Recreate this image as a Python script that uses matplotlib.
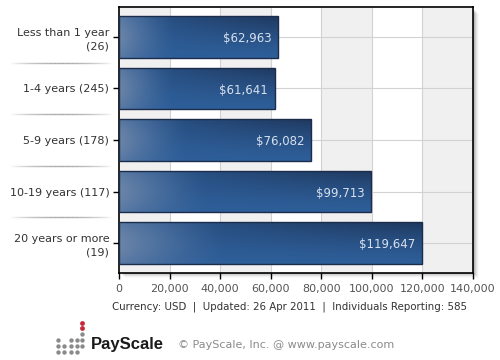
import numpy as np
import matplotlib
matplotlib.use("Agg")
import matplotlib.pyplot as plt
from matplotlib.patches import Rectangle
from matplotlib.collections import LineCollection
import matplotlib.transforms as mtransforms

categories = ["Less than 1 year\n(26)", "1-4 years (245)", "5-9 years (178)",
              "10-19 years (117)", "20 years or more\n(19)"]
values = [62963, 61641, 76082, 99713, 119647]
value_labels = ["$62,963", "$61,641", "$76,082", "$99,713", "$119,647"]
x_ticks = [0, 20000, 40000, 60000, 80000, 100000, 120000, 140000]
x_tick_labels = ["0", "20,000", "40,000", "60,000", "80,000", "100,000", "120,000", "140,000"]
footer = "Currency: USD  |  Updated: 26 Apr 2011  |  Individuals Reporting: 585"
copyright_text = "\u00a9 PayScale, Inc. @ www.payscale.com"

plt.rcParams['font.family'] = ['DejaVu Sans']
W, H = 500, 360
fig = plt.figure(figsize=(5, 3.6), dpi=100)
fig.patch.set_facecolor("white")

L, R, T, B = 119, 473, 7, 273
ax = fig.add_axes([L / W, 1 - B / H, (R - L) / W, (B - T) / H])

# shadow
for k, a in zip(range(1, 6), [0.10, 0.08, 0.06, 0.04, 0.02]):
    fig.patches.append(Rectangle(((L + k + 1) / W, 1 - (B + k) / H), (R - L) / W, (B - T - 2) / H,
                                 transform=fig.transFigure, facecolor="black", alpha=a,
                                 edgecolor="none", zorder=-1))

ax.set_facecolor("white")
ypos = np.arange(len(categories))

# alternating background bands
for i in range(len(x_ticks) - 1):
    if i % 2 == 0:
        ax.axvspan(x_ticks[i], x_ticks[i + 1], color="#f0f0f0", zorder=0, lw=0)
for xt in x_ticks[1:-1]:
    ax.axvline(xt, color="#d2d2d2", lw=0.8, zorder=0.5)
for yp in ypos:
    ax.axhline(yp, color="#d2d2d2", lw=0.8, zorder=0.5)

# gradient image for bars
nu, nv = 200, 40
u = np.linspace(0, 1, nu)[None, :]
v = np.linspace(0, 1, nv)[:, None]
base = np.array([0.18, 0.37, 0.60])
light = np.array([0.42, 0.52, 0.66])
dark = np.array([0.12, 0.22, 0.37])
wl = np.clip(1 - u / 0.35, 0, 1) ** 1.4 * (0.7 + 0.3 * np.sin(np.pi * v))
wd = np.clip((u - 0.15) / 0.85, 0, 1) ** 0.7 * (1 - v) ** 1.5 * 0.85 + 0.15 * (1 - v)
wd = np.clip(wd, 0, 1)
img = base[None, None, :] * np.ones((nv, nu, 1))
img = img * (1 - wd[..., None]) + dark * wd[..., None]
img = img * (1 - wl[..., None]) + light * wl[..., None]
img = np.clip(img, 0, 1)

bh = 0.815
bars = ax.barh(ypos, values, height=bh, facecolor="none", edgecolor="#1b2d4b",
               linewidth=1.0, zorder=3)
for bar, lab in zip(bars, value_labels):
    x0, y0, w, h = bar.get_x(), bar.get_y(), bar.get_width(), bar.get_height()
    im = ax.imshow(img, extent=[x0, x0 + w, y0 + h, y0], aspect="auto",
                   interpolation="bilinear", zorder=2)
    im.set_clip_path(bar)
    ax.text(x0 + w - 0.019 * x_ticks[-1], y0 + h / 2 + 0.03, lab, ha="right", va="center",
            color="#d6e0ee", fontsize=8.5, zorder=4)
ax.set_xlim(x_ticks[0], x_ticks[-1])
ax.set_ylim(len(categories) - 1 + 0.5825, -0.5825)
ax.set_aspect("auto")

ax.set_yticks(ypos)
ax.set_yticklabels(categories, fontsize=8, color="#333333", ha="right", linespacing=1.45)
ax.set_xticks(x_ticks)
ax.set_xticklabels(x_tick_labels, fontsize=8, color="#555555")
ax.tick_params(axis="y", length=4, width=1, color="black", pad=3)
ax.tick_params(axis="x", length=4, width=1, color="black", pad=4)
for s in ax.spines.values():
    s.set_color("black")
    s.set_linewidth(1.2)

# separator lines between labels
trans = mtransforms.blended_transform_factory(ax.transAxes, ax.transData)
xa0, xa1 = (10 - L) / (R - L), (112 - L) / (R - L)
nseg = 40
xs = np.linspace(xa0, xa1, nseg + 1)
for i in range(len(categories) - 1):
    yb = i + 0.5
    segs = [[(xs[j], yb), (xs[j + 1], yb)] for j in range(nseg)]
    t = (np.arange(nseg) + 0.5) / nseg
    alph = np.sin(np.pi * t) ** 0.8 * 0.75
    cols = [(0.55, 0.55, 0.55, a) for a in alph]
    lc = LineCollection(segs, colors=cols, linewidths=1.0, transform=trans, clip_on=False)
    ax.add_collection(lc)

fig.text(290 / W, 1 - 307 / H, footer, ha="center", va="center", fontsize=7.35, color="#333333")

# logo dots
dot_ax = fig.add_axes([0, 0, 1, 1], facecolor="none")
dot_ax.set_xlim(0, W)
dot_ax.set_ylim(H, 0)
dot_ax.axis("off")
red_pts = [(82, 323), (82, 328)]
gray_pts = [(82, 334), (58, 340), (71, 340), (77, 340), (82, 340),
            (58, 346), (64, 346), (71, 346), (77, 346), (82, 346),
            (58, 352), (64, 352), (71, 352), (77, 352)]
dot_ax.scatter([p[0] for p in red_pts], [p[1] for p in red_pts], s=12, color="#c8283a", lw=0)
dot_ax.scatter([p[0] for p in gray_pts], [p[1] for p in gray_pts], s=10, color="#8a8a8a", lw=0)
fig.text(91 / W, 1 - 344 / H, "PayScale", ha="left", va="center", fontsize=12,
         fontweight="bold", color="#1a1a1a", family="Liberation Sans")
fig.text(178 / W, 1 - 345 / H, copyright_text, ha="left", va="center", fontsize=8,
         color="#8a8a8a")

fig.savefig("out.png", dpi=100)
